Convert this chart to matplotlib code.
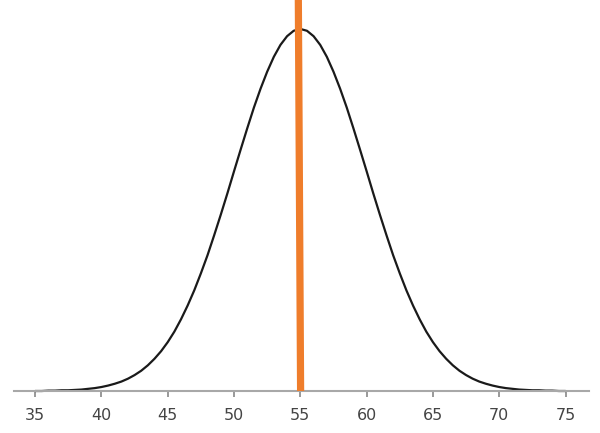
import matplotlib.pyplot as plt

# --- curve heights (peak = 1), every half unit on the x axis
xs = [35 + 0.5 * i for i in range(81)]
ys = [0.000, 0.000, 0.001, 0.001, 0.002, 0.002, 0.003, 0.004, 0.006, 0.008,
      0.011, 0.015, 0.020, 0.026, 0.034, 0.044, 0.056, 0.071, 0.089, 0.110,
      0.135, 0.164, 0.198, 0.236, 0.278, 0.325, 0.375, 0.430, 0.487, 0.546,
      0.607, 0.667, 0.726, 0.783, 0.835, 0.882, 0.923, 0.956, 0.980, 0.995,
      1.000,
      0.995, 0.980, 0.956, 0.923, 0.882, 0.835, 0.783, 0.726, 0.667, 0.607,
      0.546, 0.487, 0.430, 0.375, 0.325, 0.278, 0.236, 0.198, 0.164, 0.135,
      0.110, 0.089, 0.071, 0.056, 0.044, 0.034, 0.026, 0.020, 0.015, 0.011,
      0.008, 0.006, 0.004, 0.003, 0.002, 0.002, 0.001, 0.001, 0.000, 0.000]

# --- orange marker line (slightly tilted in the original)
marker_x = [55.02, 54.85]
marker_y = [0.0, 1.08]

ticks = [35, 40, 45, 50, 55, 60, 65, 70, 75]
tick_labels = [str(t) for t in ticks]

fig = plt.figure(figsize=(6, 4.33), dpi=100)
ax = fig.add_axes([0, 0, 1, 1])

ax.plot(xs, ys, color='#1a1a1a', linewidth=1.6, solid_capstyle='round')
ax.plot(marker_x, marker_y, color='#ef7d2b', linewidth=5.2, solid_capstyle='butt', zorder=3)

ax.set_xlim(32.35, 77.6)
ax.set_ylim(-0.116, 1.08)

for side in ['top', 'left', 'right']:
    ax.spines[side].set_visible(False)
ax.spines['bottom'].set_position(('data', 0))
ax.spines['bottom'].set_bounds(33.44, 76.76)
ax.spines['bottom'].set_color('#a8a8a8')
ax.spines['bottom'].set_linewidth(1.5)

ax.set_xticks(ticks)
ax.set_xticklabels(tick_labels)
ax.set_yticks([])
ax.tick_params(axis='x', direction='out', length=4.5, width=1.2, color='#888888',
               labelsize=11.5, labelcolor='#444444', pad=8)

fig.savefig('out.png', dpi=100)
